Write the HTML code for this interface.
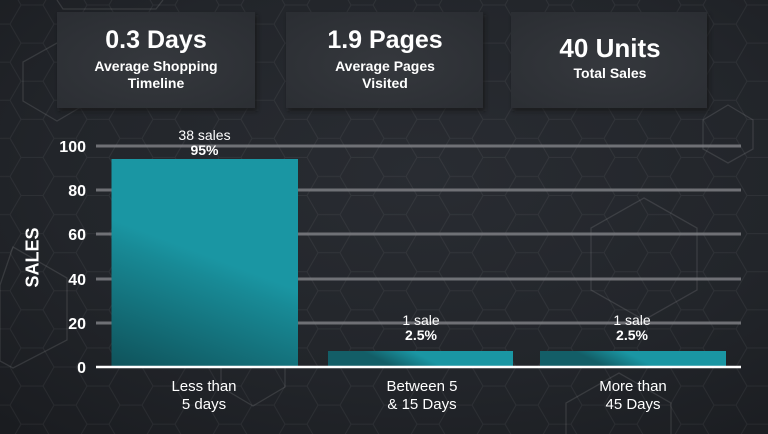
<!DOCTYPE html>
<html><head><meta charset="utf-8"><style>
html,body{margin:0;padding:0;width:768px;height:434px;overflow:hidden;background:#202328;}
svg{display:block;overflow:hidden}
text{font-family:"Liberation Sans",Arial,sans-serif;fill:#ffffff}
</style></head><body>
<svg width="768" height="434" viewBox="0 0 768 434" xmlns="http://www.w3.org/2000/svg">
<defs>
  <clipPath id="frame"><rect x="0" y="0" width="768" height="434"/></clipPath>
  <radialGradient id="bg" cx="0.55" cy="0.4" r="0.8">
    <stop offset="0" stop-color="#292c32"/>
    <stop offset="0.6" stop-color="#22252a"/>
    <stop offset="1" stop-color="#1a1c20"/>
  </radialGradient>
  <pattern id="hex" width="66" height="38.105" patternUnits="userSpaceOnUse" x="10" y="5">
    <path d="M0,19.05 L11,0 L33,0 L44,19.05 L33,38.105 L11,38.105 Z M44,19.05 L66,19.05" fill="none" stroke="#ffffff" stroke-opacity="0.055" stroke-width="1"/>
  </pattern>
  <linearGradient id="b1" gradientUnits="userSpaceOnUse" x1="205" y1="255" x2="156" y2="384">
    <stop offset="0" stop-color="#1a96a3"/>
    <stop offset="0.15" stop-color="#188a96"/>
    <stop offset="1" stop-color="#0f525a"/>
  </linearGradient>
  <linearGradient id="b2" gradientUnits="userSpaceOnUse" x1="392" y1="366" x2="402" y2="346">
    <stop offset="0" stop-color="#135e67"/>
    <stop offset="1" stop-color="#1a96a3"/>
  </linearGradient>
  <linearGradient id="b3" gradientUnits="userSpaceOnUse" x1="604" y1="366" x2="614" y2="346">
    <stop offset="0" stop-color="#135e67"/>
    <stop offset="1" stop-color="#1a96a3"/>
  </linearGradient>
  <radialGradient id="card" cx="0.5" cy="0.55" r="0.7">
    <stop offset="0" stop-color="#35383d"/>
    <stop offset="1" stop-color="#2b2e33"/>
  </radialGradient>
  <filter id="sh" x="-10%" y="-10%" width="120%" height="130%">
    <feGaussianBlur stdDeviation="2"/>
  </filter>
</defs>

<g clip-path="url(#frame)">
<rect x="0" y="0" width="768" height="434" fill="url(#bg)"/>
<rect x="0" y="0" width="768" height="434" fill="url(#hex)"/>

<g fill="none" stroke="#ffffff" stroke-opacity="0.11" stroke-width="1.3">
  <polygon points="728,105 753,120 753,149 728,163 703,149 703,120"/>
  <polygon points="644,198 697,228 697,290 644,320 591,290 591,228"/>
  <polygon points="13,247 67,278 67,340 13,368 0,361 0,285"/>
  <polygon points="57,43 91,62 91,101 57,121 23,101 23,62"/>
  <polyline points="57,0 63,9 156,9 163,0"/>
  <polygon points="253,332 285,350 285,387 253,406 221,387 221,350"/>
  <polyline points="566,434 566,403 619,373 671,403 671,434"/>
</g>

<g>
  <rect x="59" y="15" width="198" height="96" fill="#121417" opacity="0.7" filter="url(#sh)"/>
  <rect x="57" y="12" width="198" height="96" fill="url(#card)"/>
  <rect x="288" y="15" width="197" height="96" fill="#121417" opacity="0.7" filter="url(#sh)"/>
  <rect x="286" y="12" width="197" height="96" fill="url(#card)"/>
  <rect x="513" y="15" width="196" height="96" fill="#121417" opacity="0.7" filter="url(#sh)"/>
  <rect x="511" y="12" width="196" height="96" fill="url(#card)"/>
</g>
<g text-anchor="middle" font-weight="bold">
  <text x="156" y="48" font-size="25">0.3 Days</text>
  <text x="156" y="71" font-size="14">Average Shopping</text>
  <text x="156" y="88" font-size="14">Timeline</text>
  <text x="385" y="48" font-size="25">1.9 Pages</text>
  <text x="385" y="71" font-size="14">Average Pages</text>
  <text x="385" y="88" font-size="14">Visited</text>
  <text x="610" y="57" font-size="26">40 Units</text>
  <text x="610" y="78" font-size="14">Total Sales</text>
</g>

<g stroke="#7c7e82" stroke-width="3" stroke-opacity="0.85">
  <line x1="96" y1="146" x2="741" y2="146"/>
  <line x1="96" y1="190" x2="741" y2="190"/>
  <line x1="96" y1="234" x2="741" y2="234"/>
  <line x1="96" y1="279" x2="741" y2="279"/>
  <line x1="96" y1="323" x2="741" y2="323"/>
</g>

<rect x="111.5" y="159" width="186.5" height="207" fill="url(#b1)"/>
<rect x="328" y="351" width="185" height="15" fill="url(#b2)"/>
<rect x="540" y="351" width="186" height="15" fill="url(#b3)"/>

<line x1="96" y1="367" x2="741" y2="367" stroke="#ffffff" stroke-width="2.5"/>

<g text-anchor="end" font-weight="bold" font-size="16">
  <text x="86" y="152">100</text>
  <text x="86" y="196">80</text>
  <text x="86" y="240">60</text>
  <text x="86" y="285">40</text>
  <text x="86" y="329">20</text>
  <text x="86" y="373">0</text>
</g>
<text transform="translate(38.5,257.5) rotate(-90)" text-anchor="middle" font-weight="bold" font-size="18">SALES</text>

<g text-anchor="middle" font-size="14">
  <text x="204.5" y="140" fill="#e6e6e6">38 sales</text>
  <text x="204.5" y="155" font-weight="bold">95%</text>
  <text x="421" y="325" fill="#e6e6e6">1 sale</text>
  <text x="421" y="340" font-weight="bold">2.5%</text>
  <text x="632" y="325" fill="#e6e6e6">1 sale</text>
  <text x="632" y="340" font-weight="bold">2.5%</text>
</g>

<g text-anchor="middle" font-size="15" fill="#eeeeee">
  <text x="204" y="391">Less than</text>
  <text x="204" y="409">5 days</text>
  <text x="422" y="391">Between 5</text>
  <text x="422" y="409">&amp; 15 Days</text>
  <text x="633" y="391">More than</text>
  <text x="633" y="409">45 Days</text>
</g>
</g>
</svg>
</body></html>
